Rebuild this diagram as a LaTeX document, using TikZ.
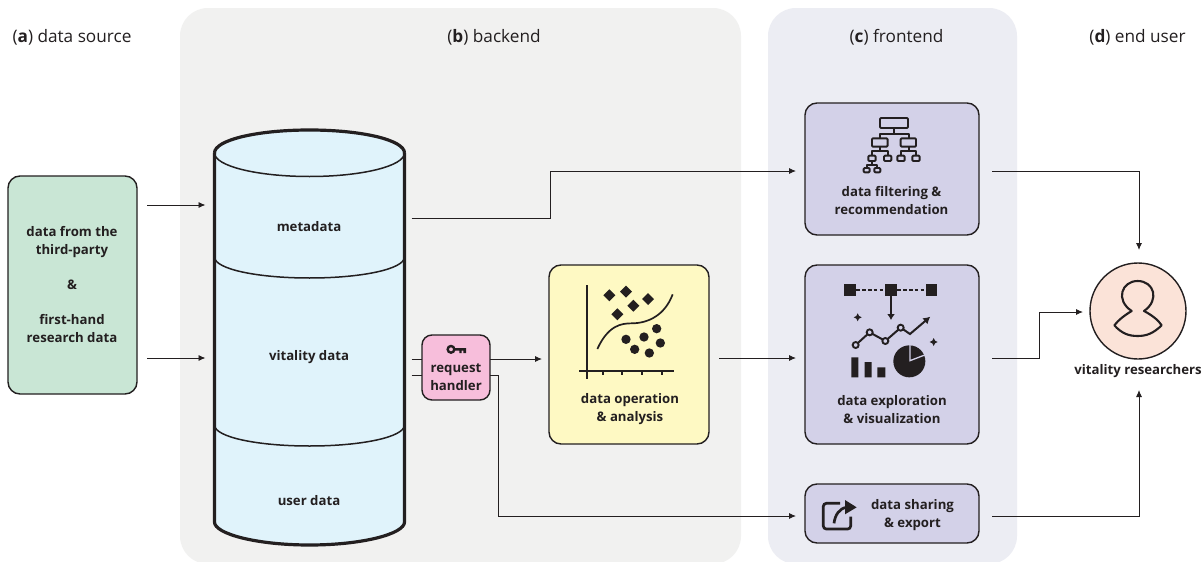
\documentclass[tikz,border=0pt]{standalone}
\usepackage{fontspec}
\setmainfont{Open Sans}
\usetikzlibrary{arrows.meta}
\definecolor{ink}{HTML}{231F20}
\definecolor{panelA}{HTML}{F1F1F0}
\definecolor{panelB}{HTML}{ECEDF3}
\definecolor{srcfill}{HTML}{C9E6D5}
\definecolor{dbfill}{HTML}{E0F3FB}
\definecolor{hfill}{HTML}{F7BEDB}
\definecolor{afill}{HTML}{FEF9C3}
\definecolor{pfill}{HTML}{D3D1E8}
\definecolor{ufill}{HTML}{FBE3D8}
\tikzset{
  x=1pt,y=-1pt,
  panel/.style={fill=#1,rounded corners=28pt,inner sep=0,outer sep=0},
  box/.style={draw=ink,fill=#1,line width=1.4pt,inner sep=0,outer sep=0,rounded corners=12pt},
  ttl/.style={font=\fontsize{17.2}{20}\selectfont,text=ink,inner sep=0,anchor=base},
  lbl/.style={font=\fontsize{13.2}{18}\selectfont\bfseries,text=ink,align=center,inner sep=0},
  conn/.style={draw=ink,line width=0.9pt,-{Latex[length=7pt,width=6pt]}},
  plainconn/.style={draw=ink,line width=0.9pt},
  icon/.style={draw=ink,line width=1.9pt,line join=round},
}
\newcommand{\halfell}[1]{\draw[ink,line width=1.5pt,shift={(0,#1)}] (214.5,0) .. controls (214.5,12) and (257,21) .. (309.5,21) .. controls (362,21) and (404.5,12) .. (404.5,0);}
\begin{document}
\begin{tikzpicture}
\useasboundingbox (0,0) rectangle (1203,562);
\clip (0,0) rectangle (1203,562);
\fill[white] (0,0) rectangle (1203,562);
% panels
\node[panel=panelA,minimum width=561pt,minimum height=556pt] (backend) at (460.5,286) {};
\node[panel=panelB,minimum width=249pt,minimum height=556pt] (frontend) at (892.5,286) {};
% titles
\node[ttl] (ta) at (72,42) {(\textbf{a}) data source};
\node[ttl] (tb) at (494,42) {(\textbf{b}) backend};
\node[ttl] (tc) at (896.5,42) {(\textbf{c}) frontend};
\node[ttl] (td) at (1137.5,42) {(\textbf{d}) end user};
% source
\node[box=srcfill,minimum width=129pt,minimum height=218pt] (src) at (72.5,285) {};
\node[lbl] (srctext) at (72,284.5) {data from the\\third-party\\[17pt]\&\\[17pt]first-hand\\research data};
% cylinder
\node[inner sep=0,outer sep=0,minimum width=190pt,minimum height=415pt] (db) at (309.5,337.5) {};
\fill[dbfill] (214.5,153) -- (214.5,522) .. controls (214.5,534) and (257,545) .. (309.5,545) .. controls (362,545) and (404.5,534) .. (404.5,522) -- (404.5,153) -- cycle;
\fill[dbfill] (309.5,153) ellipse [x radius=95,y radius=23];
\halfell{257}
\halfell{425}
\draw[ink,line width=1.5pt] (214.5,153) .. controls (214.5,166) and (257,176.5) .. (309.5,176.5) .. controls (362,176.5) and (404.5,166) .. (404.5,153);
\draw[ink,line width=3.2pt] (214.5,153) -- (214.5,522) .. controls (214.5,534) and (257,545) .. (309.5,545) .. controls (362,545) and (404.5,534) .. (404.5,522) -- (404.5,153);
\draw[ink,line width=3.2pt] (214.5,153) .. controls (214.5,140) and (257,130) .. (309.5,130) .. controls (362,130) and (404.5,140) .. (404.5,153);
\node[lbl] (meta) at (309,226.5) {metadata};
\node[lbl] (vit) at (309,357.5) {vitality data};
\node[lbl] (usr) at (309,500.5) {user data};
% boxes
\node[box=hfill,rounded corners=10pt,minimum width=68pt,minimum height=65pt] (req) at (456,367.5) {};
\node[lbl] (reqtext) at (456,377.5) {request\\handler};
\node[box=afill,minimum width=160pt,minimum height=179pt] (ana) at (629,354.5) {};
\node[lbl] (anatext) at (630,409.5) {data operation\\\& analysis};
\node[box=pfill,minimum width=174pt,minimum height=132pt] (filt) at (892,169) {};
\node[lbl] (filttext) at (891.5,200.5) {data filtering \&\\recommendation};
\node[box=pfill,minimum width=174pt,minimum height=179pt] (expl) at (892,354.5) {};
\node[lbl] (expltext) at (892,409.5) {data exploration\\\& visualization};
\node[box=pfill,minimum width=174pt,minimum height=59pt] (share) at (892,513.5) {};
\node[lbl] (sharetext) at (912.5,515.5) {data sharing\\\& export};
\node[draw=ink,fill=ufill,circle,line width=1.4pt,minimum size=96pt,inner sep=0,outer sep=0] (user) at (1138,311) {};
\node[lbl] (usertext) at (1138,371.5) {vitality researchers};
% connectors
\draw[conn] ([xshift=10pt]src.east |- 0,205) -- ([xshift=-9pt]db.west |- 0,205);
\draw[conn] ([xshift=10pt]src.east |- 0,358) -- ([xshift=-9pt]db.west |- 0,358);
\draw[conn] ([xshift=7pt]db.east |- 0,218) -- (550,218) -- (550,171) -- ([xshift=-9pt]filt.west |- 0,171);
\draw[plainconn] ([xshift=7pt]db.east |- 0,359) -- (req.west |- 0,359);
\draw[plainconn] ([xshift=7pt]db.east |- 0,375) -- (req.west |- 0,375);
\draw[conn] (req.east |- 0,359) -- ([xshift=-7pt]ana.west |- 0,359);
\draw[conn] (req.east |- 0,375) -- (498,375) -- (498,516) -- ([xshift=-9pt]share.west |- 0,516);
\draw[conn] ([xshift=10pt]ana.east |- 0,358) -- ([xshift=-9pt]expl.west |- 0,358);
\draw[conn] ([xshift=13pt]filt.east |- 0,171) -- (1139,171) -- ([yshift=13pt]user.north -| 1139,0);
\draw[conn] ([xshift=13pt]expl.east |- 0,358) -- (1039,358) -- (1039,312) -- ([xshift=-7pt]user.west |- 0,312);
\draw[conn] ([xshift=13pt]share.east |- 0,516) -- (1139,516) -- (1139,390);
% filter icon
\begin{scope}[shift={(780,90)},scale=1/3]
\draw[icon,rounded corners=1pt] (300,84) rectangle (384,114);
\draw[icon,rounded corners=1pt] (276,145) rectangle (323,170);
\draw[icon,rounded corners=1pt] (362,145) rectangle (408,170);
\draw[icon] (342,114) -- (342,132) (300,145) -- (300,132) -- (386,132) -- (386,145);
\draw[icon] (300,170) -- (300,182) (276,197) -- (276,182) -- (323,182) -- (323,197);
\draw[icon] (386,170) -- (386,182) (363,197) -- (363,182) -- (408,182) -- (408,197);
\foreach \a in {265,312,352,397} \draw[icon,rounded corners=1pt] (\a,197) rectangle (\a+22,213);
\draw[icon] (276,213) -- (276,226) (260,234) -- (260,226) -- (292,226) -- (292,234);
\foreach \a in {251,283} \draw[icon,rounded corners=1pt] (\a,234) rectangle (\a+18,247);
\end{scope}
% exploration icon
\begin{scope}[shift={(790,260)},scale=1/3]
\foreach \a in {163,286,408} \fill[ink] (\a,73) rectangle (\a+34,107);
\draw[ink,line width=2.2pt,dash pattern=on 3.6pt off 2.2pt] (199,91) -- (286,91) (322,91) -- (408,91);
\draw[ink,line width=1.8pt,-{Latex[length=6pt,width=8pt]}] (303,107) -- (303,180);
\foreach \p in {(203,172),(431,246)} \fill[ink] \p ++(-12,0) -- ++(8,-4) -- ++(4,-8) -- ++(4,8) -- ++(8,4) -- ++(-8,4) -- ++(-4,8) -- ++(-4,-8) -- cycle;
\draw[ink,line width=2pt,-{Latex[length=7pt,width=8pt]}] (197,255) -- (239,217) -- (286,243) -- (332,203) -- (360,222) -- (421,170);
\foreach \p in {(197,255),(239,217),(286,243),(332,203)} \draw[ink,line width=1.9pt,fill=pfill] \p circle[radius=9];
\fill[ink] (184,292) rectangle (205,352) (224,306) rectangle (245,352) (262,322) rectangle (286,352);
\fill[ink] (358,304) circle[radius=48];
\draw[pfill,line width=1.3pt] (360,250) -- (360,302) -- (412,282);
\end{scope}
% analysis icon
\begin{scope}[shift={(400,260)},scale=1/3]
\draw[ink,line width=1.7pt] (562,75) -- (562,358) (537,333) -- (822,333);
\foreach \a in {609,667,726,785} \draw[ink,line width=1.7pt] (\a,333) -- (\a,345);
\draw[ink,line width=1.7pt] (592,267) .. controls (625,195) and (665,190) .. (695,190) .. controls (745,190) and (795,165) .. (818,103);
\foreach \p in {(628,106),(678,95),(744,117),(700,137),(652,163)} \fill[ink] \p ++(-18,0) -- ++(18,-18) -- ++(18,18) -- ++(-18,18) -- cycle;
\foreach \p in {(678,238),(732,231),(770,206),(781,249),(704,268),(748,279)} \fill[ink] \p circle[radius=14];
% key
\draw[ink,line width=2.4pt] (153,268) circle[radius=10];
\fill[ink] (164,264) rectangle (198,272) (178,272) rectangle (185,279) (190,272) rectangle (198,279);
\end{scope}
% share icon
\begin{scope}[shift={(790,475)},scale=1/3]
\draw[ink,line width=2.7pt,rounded corners=3pt] (150,85) -- (100,85) -- (100,162) -- (182,162) -- (182,125);
\draw[ink,line width=2.7pt] (132,145) .. controls (135,120) and (148,100) .. (170,97);
\fill[ink] (165,75) -- (200,97) -- (165,118) -- cycle;
\end{scope}
% user icon
\begin{scope}[shift={(1060,250)},scale=1/3]
\draw[ink,line width=2.1pt,line join=round] (215,183) .. controls (165,150) and (185,93) .. (233,93) .. controls (282,93) and (300,150) .. (252,183) .. controls (275,195) and (295,210) .. (305,226) .. controls (280,250) and (260,258) .. (233,258) .. controls (205,258) and (185,250) .. (163,226) .. controls (175,210) and (195,195) .. (215,183) -- cycle;
\end{scope}
\end{tikzpicture}
\end{document}
